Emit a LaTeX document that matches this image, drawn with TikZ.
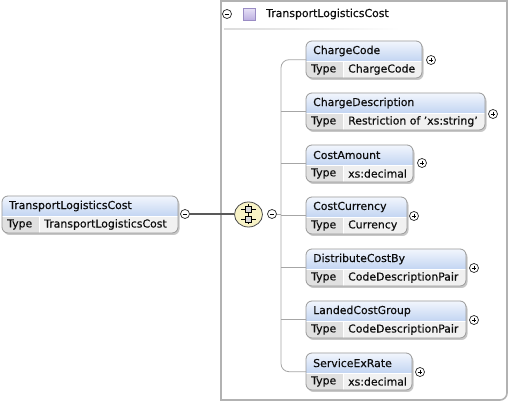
\documentclass[tikz,border=0pt]{standalone}
\usepackage{fontspec}
\setmainfont{DejaVu Sans}[FakeBold=0.35]
\usetikzlibrary{calc,shapes.geometric}
\definecolor{hdtop}{HTML}{F2F6FD}
\definecolor{hdbot}{HTML}{C3D5F2}
\definecolor{bodyc}{HTML}{F1F1F1}
\definecolor{typec}{HTML}{E0E0E0}
\definecolor{edgec}{HTML}{9A9A9A}
\definecolor{seqfill}{HTML}{F8F3C6}
\definecolor{sqtop}{HTML}{E6E0F6}
\definecolor{sqbot}{HTML}{BBAEE0}
\definecolor{sqedge}{HTML}{9A8CC4}
\tikzset{
  txt/.style={font=\fontsize{10.9}{12}\selectfont, inner sep=0pt, anchor=west, text=black!95},
  boxframe/.style={draw=edgec, line width=0.8pt, rounded corners=6pt},
  hole/.style={draw=none, inner sep=0pt, anchor=north west},
  pm/.style={circle, draw=black!85, line width=0.7pt, minimum size=9pt, inner sep=0pt, fill=white},
  conn/.style={draw=black!35, line width=0.8pt},
  mainconn/.style={draw=black!65, line width=2pt},
}
\newcommand\xelem[7]{% name, x, y, width, title, type, typewidth
  \begin{scope}[shift={(#2,#3)}]
    \fill[black!22, rounded corners=6pt] (1.5,2) rectangle ++(#4,37);
    \begin{scope}
      \clip[rounded corners=6pt] (0,0) rectangle (#4,37);
      \shade[top color=hdtop, bottom color=hdbot] (0,0) rectangle (#4,20);
      \fill[typec] (0,20) rectangle (#7,37);
      \fill[bodyc] (#7,20) rectangle (#4,37);
      \draw[white, line width=0.6pt] (0,20.3) -- (#4,20.3);
      \draw[white, line width=0.6pt] (#7,20) -- (#7,37);
    \end{scope}
    \path[boxframe] (0,0) rectangle (#4,37);
    \node[hole, minimum width=#4pt, minimum height=37pt] (#1) at (0,0) {};
    \node[txt] (#1-t) at (7,10) {#5};
    \node[txt] (#1-k) at (5,28.5) {Type};
    \node[txt] (#1-v) at ($(#7,28.5)+(5,0)$) {#6};
  \end{scope}}
\newcommand\plusc[3]{% name, x, y
  \node[pm] (#1) at (#2,#3) {};
  \draw[line width=0.7pt] ($(#1)+(-2.3,0)$) -- ($(#1)+(2.3,0)$) ($(#1)+(0,-2.3)$) -- ($(#1)+(0,2.3)$);}
\newcommand\minusc[3]{%
  \node[pm] (#1) at (#2,#3) {};
  \draw[line width=0.7pt] ($(#1)+(-2.3,0)$) -- ($(#1)+(2.3,0)$);}
\begin{document}
\begin{tikzpicture}[x=1pt, y=-1pt]
  \useasboundingbox (0,0) rectangle (509,403);
  \fill[white] (0,0) rectangle (509,403);
  % outer group box
  \draw[draw=black!30, line width=1.6pt] (221,1) -- (221,400) -- (500,400) to[out=0,in=-90] (507,393) -- (507,1) -- cycle;
  % header of group
  \minusc{gm}{227}{14}
  \node[draw=sqedge, line width=0.6pt, minimum size=12pt, inner sep=0pt, top color=sqtop, bottom color=sqbot] (gsq) at (249,14.5) {};
  \node[txt] (gtitle) at (266,14) {TransportLogisticsCost};
  \shade[left color=black!14, right color=white] (224,28.5) rectangle (400,30);
  % left element
  \xelem{root}{2}{196}{176}{TransportLogisticsCost}{TransportLogisticsCost}{37}
  \minusc{rm}{185}{214}
  % sequence compositor
  \node[ellipse, draw=black!70, line width=0.8pt, fill=seqfill, minimum width=28pt, minimum height=25pt, inner sep=0pt] (seq) at (248.5,214.5) {};
  \draw[mainconn] (rm.east) -- (rm.east -| seq.west);
  \begin{scope}[line width=0.7pt]
    \draw (248.5,204.5) -- (248.5,224.5);
    \draw (241,209.5) -- (256,209.5) (241,219.5) -- (256,219.5);
    \draw[fill=black!15] (245.5,206.5) rectangle (251.5,212.5);
    \draw[fill=black!15] (245.5,216.5) rectangle (251.5,222.5);
  \end{scope}
  \minusc{sm}{272}{214}
  \coordinate (trunk) at (281,214);
  \draw[conn] (sm) -- (trunk);
  % children
  \xelem{c1}{306}{41}{116}{ChargeCode}{ChargeCode}{37}
  \plusc{p1}{431}{60}
  \xelem{c2}{306}{93}{179}{ChargeDescription}{Restriction of 'xs:string'}{37}
  \plusc{p2}{493}{114}
  \xelem{c3}{306}{145}{107}{CostAmount}{xs:decimal}{37}
  \plusc{p3}{422}{163}
  \xelem{c4}{306}{197}{101}{CostCurrency}{Currency}{37}
  \plusc{p4}{414}{216}
  \xelem{c5}{306}{249}{160}{DistributeCostBy}{CodeDescriptionPair}{37}
  \plusc{p5}{474}{268}
  \xelem{c6}{306}{301}{160}{LandedCostGroup}{CodeDescriptionPair}{37}
  \plusc{p6}{474}{320}
  \xelem{c7}{306}{353}{106}{ServiceExRate}{xs:decimal}{37}
  \plusc{p7}{420}{372}
  % trunk connectors
  \draw[conn, rounded corners=8pt] (c1.west) -| (trunk) |- (c7.west);
  \foreach \c in {c2,c3,c4,c5,c6} {\draw[conn] (\c.west -| trunk) -- (\c.west);}
\end{tikzpicture}
\end{document}
